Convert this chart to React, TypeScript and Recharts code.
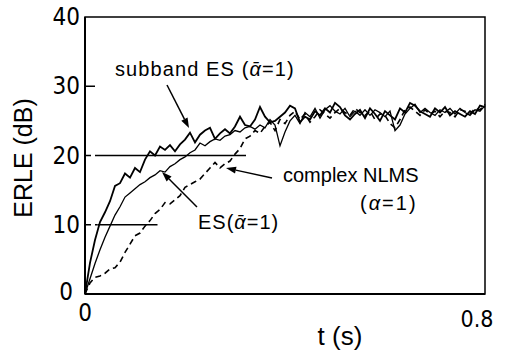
import React from 'react';
import { LineChart, Line, XAxis, YAxis, ReferenceLine, ReferenceArea } from 'recharts';

const tValues = [
  0, 0.01, 0.02, 0.03, 0.04, 0.05, 0.06, 0.07, 0.08, 0.09,
  0.1, 0.11, 0.12, 0.13, 0.14, 0.15, 0.16, 0.17, 0.18, 0.19,
  0.2, 0.21, 0.22, 0.23, 0.24, 0.25, 0.26, 0.27, 0.28, 0.29,
  0.3, 0.31, 0.32, 0.33, 0.34, 0.35, 0.36, 0.37, 0.38, 0.39,
  0.4, 0.41, 0.42, 0.43, 0.44, 0.45, 0.46, 0.47, 0.48, 0.49,
  0.5, 0.51, 0.52, 0.53, 0.54, 0.55, 0.56, 0.57, 0.58, 0.59,
  0.6, 0.61, 0.62, 0.63, 0.64, 0.65, 0.66, 0.67, 0.68, 0.69,
  0.7, 0.71, 0.72, 0.73, 0.74, 0.75, 0.76, 0.77, 0.78, 0.79, 0.8,
];

const subbandES = [
  0, 4.5, 7.8, 10.4, 11.8, 13.4, 15.6, 16.0, 17.4, 16.8,
  18.2, 17.6, 19.4, 20.6, 20.0, 21.3, 20.8, 21.5, 20.6, 21.6,
  22.3, 23.3, 21.9, 23.0, 23.6, 24.0, 22.4, 23.2, 23.8, 23.2,
  24.2, 25.6, 24.4, 24.2, 25.2, 27.0, 25.6, 24.8, 25.0, 25.6,
  26.2, 27.2, 26.8, 24.8, 25.6, 25.2, 26.4, 25.8, 26.8, 26.2,
  27.6, 27.0, 25.8, 25.2, 26.0, 26.6, 25.4, 26.8, 26.0, 25.0,
  26.4, 25.8, 25.2, 26.8, 26.2, 27.6, 27.2, 26.4, 26.0, 25.6,
  26.8, 26.2, 27.0, 25.8, 26.4, 26.0, 25.6, 26.4, 26.0, 27.2, 27.0,
];

const esValues = [
  0, 2.2, 4.4, 6.4, 8.2, 9.8, 11.4, 12.6, 14.0, 14.6,
  15.2, 15.8, 16.2, 16.8, 17.2, 17.8, 17.6, 18.4, 18.8, 19.4,
  19.8, 20.4, 20.8, 21.8, 21.4, 22.0, 22.4, 22.2, 22.8, 23.0,
  23.6, 23.4, 24.0, 24.2, 23.8, 24.4, 24.0, 25.2, 24.4, 21.4,
  23.4, 25.0, 25.8, 24.6, 26.2, 25.6, 26.8, 25.4, 26.6, 27.2,
  26.4, 26.0, 26.8, 25.6, 26.4, 25.8, 26.6, 25.8, 26.6, 26.2,
  25.6, 26.4, 23.6, 24.4, 26.0, 26.8, 27.4, 26.2, 26.8, 26.2,
  25.8, 26.6, 26.2, 26.8, 26.0, 26.8, 26.2, 25.8, 26.6, 26.4, 27.2,
];

const nlmsValues = [
  0, 1.6, 2.4, 2.6, 3.0, 3.6, 3.8, 4.6, 6.0, 7.2,
  8.4, 8.8, 9.8, 10.6, 11.6, 12.2, 13.2, 13.0, 13.6, 14.2,
  15.4, 15.8, 16.2, 16.6, 17.4, 18.2, 19.0, 18.2, 18.8, 19.2,
  20.2, 21.0, 22.4, 22.8, 23.6, 23.2, 24.2, 24.8, 23.6, 25.2,
  24.6, 25.8, 26.4, 25.2, 26.0, 24.8, 25.6, 26.6, 26.0, 25.4,
  26.2, 26.8, 26.2, 25.8, 26.8, 26.2, 25.8, 26.4, 25.2, 26.0,
  25.8, 24.6, 24.0, 25.2, 26.6, 27.0, 26.4, 25.8, 26.6, 26.0,
  26.4, 25.6, 26.4, 26.2, 25.6, 26.6, 26.4, 26.0, 26.8, 26.6, 27.4,
];

const xTicks = [0, 0.8];
const yTicks = [0, 10, 20, 30, 40];

const data = tValues.map((t, i) => ({
  t,
  subband: subbandES[i],
  es: esValues[i],
  nlms: nlmsValues[i],
}));

const tickFont = "'Liberation Sans Narrow', 'DejaVu Sans Condensed', 'Liberation Sans', sans-serif";
const textFont = "'Liberation Sans', Arial, sans-serif";

const YTick = (props: any) => {
  const { x, y, payload } = props;
  const v = payload.value;
  const axisX = x + 3;
  return (
    <g>
      <text
        x={v === 0 ? x - 9 : x - 2}
        y={v === 0 ? y + 6 : y + 8}
        textAnchor="end"
        fontSize={24}
        fontFamily={tickFont}
        fill="#000"
      >
        {v}
      </text>
      {v > 0 && v < 40 && v !== 20 && v !== 10 ? (
        <line x1={axisX} y1={y} x2={axisX + 10} y2={y} stroke="#000" strokeWidth={1.5} />
      ) : null}
    </g>
  );
};

const XTick = (props: any) => {
  const { x, y, payload } = props;
  const v = payload.value;
  return (
    <text
      x={v === 0 ? x : x - 8}
      y={y + (v === 0 ? 27 : 33)}
      textAnchor="middle"
      fontSize={v === 0 ? 24 : 23}
      fontFamily={tickFont}
      fontWeight={v === 0 ? 'normal' : 'lighter'}
      fill="#000"
    >
      {v === 0 ? '0' : String(v)}
    </text>
  );
};

const Arrow = ({ x1, y1, x2, y2 }: { x1: number; y1: number; x2: number; y2: number }) => {
  const dx = x2 - x1;
  const dy = y2 - y1;
  const len = Math.sqrt(dx * dx + dy * dy);
  const ux = dx / len;
  const uy = dy / len;
  const hl = 10;
  const hw = 3.5;
  const bx = x2 - ux * hl;
  const by = y2 - uy * hl;
  const pts = `${x2},${y2} ${bx - uy * hw},${by + ux * hw} ${bx + uy * hw},${by - ux * hw}`;
  return (
    <g>
      <line x1={x1} y1={y1} x2={bx} y2={by} stroke="#000" strokeWidth={1.5} />
      <polygon points={pts} fill="#000" />
    </g>
  );
};

const alphaBar = 'α\u0304';

export default function App() {
  return (
    <div style={{ position: 'absolute', left: 0, top: 0, width: 507, height: 354, background: '#fff' }}>
      <LineChart width={507} height={354} data={data} margin={{ top: 17, right: 22, left: 0, bottom: 30 }}>
        <XAxis
          dataKey="t"
          type="number"
          domain={[0, 0.8]}
          ticks={xTicks}
          axisLine={{ stroke: '#000', strokeWidth: 2 }}
          tickLine={false}
          tickSize={0}
          tickMargin={0}
          height={30}
          tick={<XTick />}
          interval={0}
        />
        <YAxis
          type="number"
          domain={[0, 40]}
          ticks={yTicks}
          axisLine={{ stroke: '#000', strokeWidth: 2 }}
          tickLine={false}
          tickSize={0}
          tickMargin={3}
          width={85}
          tick={<YTick />}
          interval={0}
        />
        <ReferenceArea x1={0} x2={0.8} y1={0} y2={40} fill="none" fillOpacity={0} stroke="#000" strokeWidth={1.5} />
        <ReferenceLine segment={[{ x: 0, y: 20 }, { x: 0.028, y: 20 }]} stroke="#000" strokeWidth={1.3} strokeDasharray="6 4" />
        <ReferenceLine segment={[{ x: 0.028, y: 20 }, { x: 0.322, y: 20 }]} stroke="#000" strokeWidth={1.3} />
        <ReferenceLine segment={[{ x: 0, y: 10 }, { x: 0.025, y: 10 }]} stroke="#000" strokeWidth={1.3} strokeDasharray="6 4" />
        <ReferenceLine segment={[{ x: 0.025, y: 10 }, { x: 0.145, y: 10 }]} stroke="#000" strokeWidth={1.3} />
        <Line type="linear" dataKey="nlms" stroke="#000" strokeWidth={1.6} strokeDasharray="6 4" dot={false} isAnimationActive={false} />
        <Line type="linear" dataKey="es" stroke="#000" strokeWidth={1.3} dot={false} isAnimationActive={false} />
        <Line type="linear" dataKey="subband" stroke="#000" strokeWidth={1.8} dot={false} isAnimationActive={false} />
      </LineChart>
      <svg width={507} height={354} style={{ position: 'absolute', left: 0, top: 0, pointerEvents: 'none' }}>
        <text
          transform="translate(32,158) rotate(-90)"
          textAnchor="middle"
          fontSize={25}
          fontFamily={textFont}
          fill="#000"
        >
          ERLE (dB)
        </text>
        <text x={340} y={345} textAnchor="middle" fontSize={26} fontFamily={textFont} fill="#000">
          t (s)
        </text>
        <text x={115} y={76} fontSize={20} letterSpacing={1.1} fontFamily={textFont} fill="#000">
          subband ES (<tspan fontStyle="italic">{alphaBar}</tspan>=1)
        </text>
        <text x={283} y={182} fontSize={20} fontFamily={textFont} fill="#000">
          complex NLMS
        </text>
        <text x={360} y={210} fontSize={20} letterSpacing={2} fontFamily={textFont} fill="#000">
          (<tspan fontStyle="italic">α</tspan>=1)
        </text>
        <text x={198} y={229} fontSize={20} letterSpacing={1} fontFamily={textFont} fill="#000">
          ES(<tspan fontStyle="italic">{alphaBar}</tspan>=1)
        </text>
        <Arrow x1={167} y1={85} x2={189} y2={128} />
        <Arrow x1={272} y1={178} x2={226} y2={168} />
        <Arrow x1={197} y1={207} x2={162} y2={172} />
      </svg>
    </div>
  );
}
